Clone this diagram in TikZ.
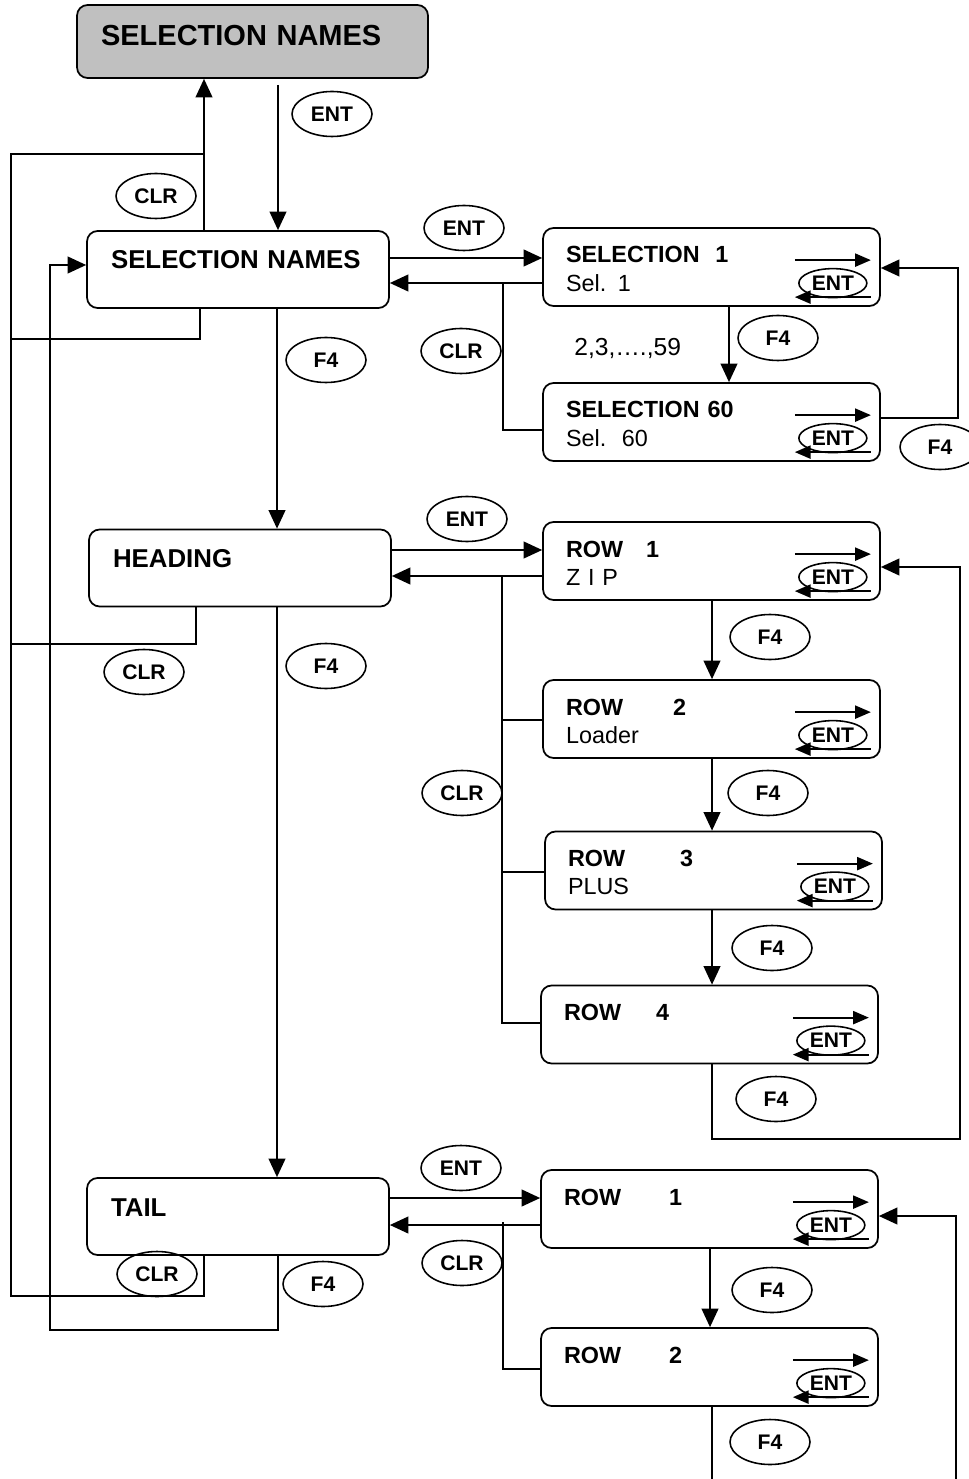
\documentclass[tikz,border=0pt]{standalone}
\usepackage{fontspec}
\setmainfont{Liberation Sans}
\usetikzlibrary{arrows.meta, shapes.geometric}
\definecolor{cPanel}{RGB}{192,192,192}
\tikzset{
  panel/.style={rectangle, rounded corners=6pt, draw, line width=1pt,
                inner ysep=0pt, align=left},
  panelTop/.style={panel, fill=cPanel, inner xsep=0.48cm, text width=6.06cm,
                   text height=0.82cm, text depth=0.64cm,
                   font=\fontsize{16.5}{19}\selectfont\bfseries},
  panelL/.style={panel, inner xsep=0.48cm, text width=5.08cm,
                 text height=0.76cm, text depth=0.78cm,
                 font=\fontsize{14.7}{17}\selectfont\bfseries},
  panelR/.style={panel, inner xsep=0.46cm, text width=5.82cm,
                 text height=0.70cm, text depth=0.86cm,
                 font=\fontsize{13.3}{16}\selectfont},
  %% key bubbles
  key/.style={ellipse, draw, line width=0.9pt, minimum width=1.6cm,
              minimum height=0.9cm, inner sep=0pt,
              font=\fontsize{12}{14}\selectfont\bfseries},
  keyS/.style={key, minimum width=1.36cm, minimum height=0.58cm},
  note/.style={font=\fontsize{14}{17}\selectfont, inner sep=0pt},
  %% lines
  wire/.style={line width=1pt},
  arr/.style={wire, -{Triangle[length=10.5pt, width=9.5pt]}},
  arrS/.style={wire, -{Triangle[length=9pt, width=7.5pt]}},
}

\begin{document}
\begin{tikzpicture}[x=0.02cm, y=-0.02cm]
\useasboundingbox (0,0) rectangle (969,1479);

%% ============================================================
%%  LEFT COLUMN: menu levels
%% ============================================================
\node[panelTop] (top)  at (252.5, 41.5)  {SELECTION NAMES};
\node[panelL]   (sn)   at (238, 269.5)   {SELECTION NAMES};
\node[panelL]   (head) at (240, 568)     {HEADING};
\node[panelL]   (tail) at (238, 1216.5)  {TAIL};

%% ----- columns of the vertical lines -----
\def\xClr{204}
\def\xEnt{278}
\def\xF{277}

\coordinate (entTop) at (\xEnt, 85);
\coordinate (jClr)   at (\xClr, 154);
\draw[arr] (sn.north -| jClr) -- (top.south -| jClr);
\draw[arr] (entTop) -- (sn.north -| entTop);

\draw[arr] (sn.south -| \xF, 0)   -- (head.north -| \xF, 0);
\draw[arr] (head.south -| \xF, 0) -- (tail.north -| \xF, 0);

%% ----- CLR return bus (x = 11) -----
\coordinate (lT)   at (11, 154);
\coordinate (lB)   at (11, 1296);
\coordinate (tClr) at (\xClr, 1296);
\coordinate (sClr) at (200, 339);
\coordinate (hClr) at (196, 644);
\draw[wire] (jClr) -- (lT) -- (lB) -- (tClr) -- (tail.south -| tClr);
\draw[wire] (sn.south -| sClr) -- (sClr) -- (sClr -| lT);
\draw[wire] (head.south -| hClr) -- (hClr) -- (hClr -| lT);

%% ----- F4 return bus (x = 50) -----
\coordinate (rT)  at (50, 265);
\coordinate (rB)  at (50, 1330);
\coordinate (tF4) at (\xEnt, 1330);
\draw[arr] (tail.south -| tF4) -- (tF4) -- (rB) -- (rT) -- (sn.west |- rT);

\node[key] (kEnt0) at (332, 114)  {ENT};
\node[key] (kClr0) at (156, 196)  {CLR};
\node[key] (kF4a)  at (326, 360)  {F4};
\node[key] (kClrH) at (144, 672)  {CLR};
\node[key] (kF4b)  at (326, 666)  {F4};
\node[key] (kClrT) at (157, 1274) {CLR};
\node[key] (kF4c)  at (323, 1284) {F4};

%% ============================================================
%%  SELECTION NAMES -> SELECTION 1..60
%% ============================================================
\node[panelR] (sel1)  at (711.5, 267) {\textbf{SELECTION\ \ 1}\\Sel. 1};
\node[panelR] (sel60) at (711.5, 422) {\textbf{SELECTION 60}\\Sel.\ \ 60};

\coordinate (ySe) at (0, 258);
\coordinate (ySc) at (0, 283);
\draw[arr] (sn.east |- ySe) -- (sel1.west |- ySe);
\draw[arr] (sel1.west |- ySc) -- (sn.east |- ySc);

\coordinate (cS)  at (503, 283);
\coordinate (cS2) at (503, 430);
\draw[wire] (cS) -- (cS2) -- (cS2 -| sel60.west);

\draw[arr] (sel1.south -| 729, 0) -- (sel60.north -| 729, 0);
\node[note, anchor=base west] (range) at (574, 356) {2,3,….,59};

\coordinate (lpA) at (958, 418);
\coordinate (lpB) at (958, 268);
\draw[arr] (sel60.east |- lpA) -- (lpA) -- (lpB) -- (sel1.east |- lpB);

\node[key] (kEntS) at (464, 228) {ENT};
\node[key] (kClrS) at (461, 351) {CLR};
\node[key] (kF4S)  at (778, 338) {F4};
\node[key] (kF4L)  at (940, 447) {F4};

%% ============================================================
%%  HEADING -> ROW 1..4
%% ============================================================
\node[panelR] (rowA) at (711.5, 561)  {\textbf{ROW\hspace{0.46cm}1}\\Z I P};
\node[panelR] (rowB) at (711.5, 719)  {\textbf{ROW\hspace{1.0cm}2}\\Loader};
\node[panelR] (rowC) at (713.5, 870.5){\textbf{ROW\hspace{1.1cm}3}\\PLUS};
\node[panelR] (rowD) at (709.5, 1024.5){\textbf{ROW\hspace{0.7cm}4}};

\coordinate (yHe) at (0, 550);
\coordinate (yHc) at (0, 576);
\draw[arr] (head.east |- yHe) -- (rowA.west |- yHe);
\draw[arr] (rowA.west |- yHc) -- (head.east |- yHc);

\coordinate (cH)  at (502, 576);
\coordinate (cHb) at (502, 720);
\coordinate (cHc) at (502, 872);
\coordinate (cHd) at (502, 1023);
\draw[wire] (cH) -- (cHd) -- (cHd -| rowD.west);
\draw[wire] (cHb) -- (cHb -| rowB.west);
\draw[wire] (cHc) -- (cHc -| rowC.west);

\def\xR{712}
\draw[arr] (rowA.south -| \xR, 0) -- (rowB.north -| \xR, 0);
\draw[arr] (rowB.south -| \xR, 0) -- (rowC.north -| \xR, 0);
\draw[arr] (rowC.south -| \xR, 0) -- (rowD.north -| \xR, 0);

\coordinate (lhA) at (\xR, 1139);
\coordinate (lhB) at (960, 1139);
\coordinate (lhC) at (960, 567);
\draw[arr] (rowD.south -| lhA) -- (lhA) -- (lhB) -- (lhC) -- (rowA.east |- lhC);

\node[key] (kEntH) at (467, 519)  {ENT};
\node[key] (kClrR) at (462, 793)  {CLR};
\node[key] (kF4h1) at (770, 637)  {F4};
\node[key] (kF4h2) at (768, 793)  {F4};
\node[key] (kF4h3) at (772, 948)  {F4};
\node[key] (kF4h4) at (776, 1099) {F4};

%% ============================================================
%%  TAIL -> ROW 1..2
%% ============================================================
\node[panelR] (tailA) at (709.5, 1209) {\textbf{ROW\hspace{0.96cm}1}};
\node[panelR] (tailB) at (709.5, 1367) {\textbf{ROW\hspace{0.96cm}2}};

\coordinate (yTe) at (0, 1198);
\coordinate (yTc) at (0, 1225);
\draw[arr] (tail.east |- yTe) -- (tailA.west |- yTe);
\draw[arr] (tailA.west |- yTc) -- (tail.east |- yTc);

\coordinate (cT)  at (503, 1222);
\coordinate (cT2) at (503, 1369);
\draw[wire] (cT) -- (cT2) -- (cT2 -| tailB.west);

\draw[arr] (tailA.south -| 710, 0) -- (tailB.north -| 710, 0);

\coordinate (endL) at (\xR, 1479);
\coordinate (endR) at (956, 1479);
\coordinate (ltR)  at (956, 1216);
\draw[wire] (tailB.south -| endL) -- (endL);
\draw[arr] (endR) -- (ltR) -- (tailA.east |- ltR);

\node[key] (kEntT) at (461, 1168) {ENT};
\node[key] (kClrU) at (462, 1263) {CLR};
\node[key] (kF4t1) at (772, 1290) {F4};
\node[key] (kF4t2) at (770, 1442) {F4};

%% ============================================================
%%  ENT toggles inside the entry panels
%% ============================================================
\foreach \b in {sel1, sel60, rowA, rowB, rowC, rowD, tailA, tailB} {
  \node[keyS] (ent-\b) at ([shift={(-48,56)}]\b.north east) {ENT};
  \draw[arrS] ([shift={(-86,33)}]\b.north east) -- ([shift={(-10,33)}]\b.north east);
  \draw[arrS] ([shift={(-10,70)}]\b.north east) -- ([shift={(-86,70)}]\b.north east);
}

\end{tikzpicture}
\end{document}
